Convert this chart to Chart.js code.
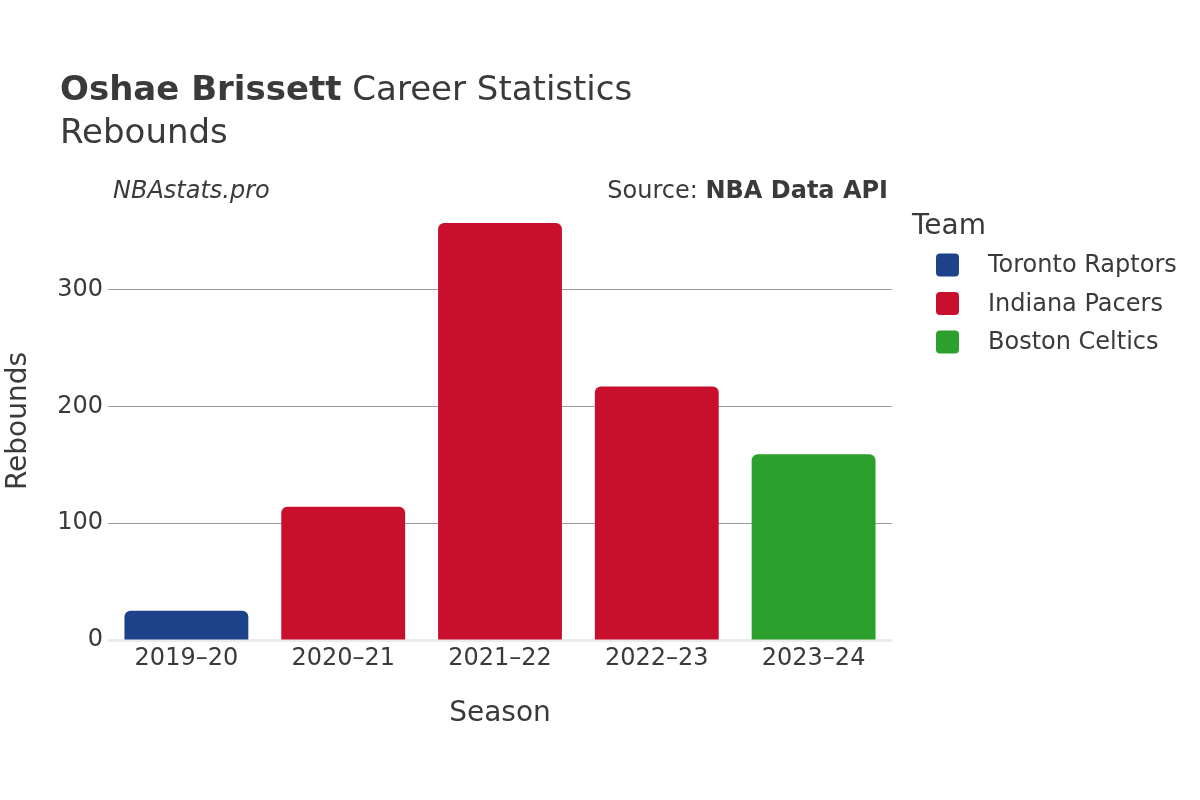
<!DOCTYPE html>
<html><head><meta charset="utf-8">
<script src="https://cdn.jsdelivr.net/npm/chart.js@4.4.1/dist/chart.umd.min.js"></script>
<style>html,body{margin:0;padding:0;background:#fff}#wrap{width:1200px;height:800px}</style>
</head><body><div id="wrap"><canvas id="c" width="1200" height="800"></canvas></div>
<script>
const seasons = ["2019–20","2020–21","2021–22","2022–23","2023–24"];
const teams = ["Toronto Raptors","Indiana Pacers","Boston Celtics"];
const teamColors = ["#1D428A","#C8102E","#2CA02C"];
const torontoRebounds = [25, null, null, null, null];
const indianaRebounds = [null, 114, 357, 217, null];
const bostonRebounds = [null, null, null, null, 159];
const yTicks = [0, 100, 200, 300];
const FONT = "'DejaVu Sans', sans-serif";
const TXT = "#3a3a3a";

const overlay = {
  id: 'overlay',
  afterDraw(chart) {
    const ctx = chart.ctx;
    ctx.save();
    ctx.fillStyle = TXT;
    ctx.textBaseline = 'alphabetic';
    ctx.textAlign = 'left';
    ctx.font = "bold 34px " + FONT;
    const b = "Oshae Brissett";
    ctx.fillText(b, 60, 100);
    const w = ctx.measureText(b).width;
    ctx.font = "34px " + FONT;
    ctx.fillText(" Career Statistics", 60 + w, 100);
    ctx.fillText("Rebounds", 60, 143);
    ctx.textBaseline = 'middle';
    ctx.font = "italic 24px " + FONT;
    ctx.fillText("NBAstats.pro", 113, 192);
    ctx.font = "bold 24px " + FONT;
    const api = "NBA Data API";
    const aw = ctx.measureText(api).width;
    ctx.fillText(api, 888 - aw, 192);
    ctx.font = "24px " + FONT;
    const src = "Source: ";
    const sw = ctx.measureText(src).width;
    ctx.fillText(src, 888 - aw - sw, 192);
    // legend
    ctx.font = "28px " + FONT;
    ctx.fillText("Team", 912, 227);
    ctx.font = "24px " + FONT;
    chart.data.datasets.forEach((ds, i) => {
      const y = 265 + i * 38.5;
      ctx.fillStyle = ds.backgroundColor;
      ctx.beginPath();
      ctx.roundRect(936, y - 11.5, 23, 23, 4);
      ctx.fill();
      ctx.fillStyle = TXT;
      ctx.fillText(ds.label, 988, y + 1);
    });
    ctx.restore();
  },
  beforeDatasetsDraw(chart) {
    const ctx = chart.ctx;
    const a = chart.chartArea;
    const y0 = chart.scales.y.getPixelForValue(0);
    ctx.save();
    ctx.fillStyle = '#ebebeb';
    ctx.fillRect(a.left, y0 - 1, a.right - a.left, 3);
    ctx.restore();
  }
};

new Chart(document.getElementById('c'), {
  type: 'bar',
  data: {
    labels: seasons,
    datasets: [
      { label: teams[0], data: torontoRebounds, backgroundColor: teamColors[0] },
      { label: teams[1], data: indianaRebounds, backgroundColor: teamColors[1] },
      { label: teams[2], data: bostonRebounds, backgroundColor: teamColors[2] }
    ]
  },
  options: {
    responsive: false,
    animation: false,
    layout: { padding: { top: 202, right: 308, left: 0, bottom: 69 } },
    datasets: { bar: { grouped: false, categoryPercentage: 1, barPercentage: 0.79, borderRadius: 6, borderSkipped: 'start' } },
    plugins: { legend: { display: false }, tooltip: { enabled: false } },
    scales: {
      x: {
        grid: { display: false },
        border: { display: false },
        ticks: { color: TXT, font: { family: FONT, size: 24 }, padding: -4, maxRotation: 0 },
        title: { display: true, text: 'Season', color: TXT, font: { family: FONT, size: 28 }, padding: { top: 4, bottom: 0 } },
        afterFit(s) { s.height = 91; }
      },
      y: {
        min: 0, max: 375,
        afterBuildTicks(s) { s.ticks = yTicks.map(v => ({ value: v })); },
        grid: { color: (c) => c.tick && c.tick.value === 0 ? 'rgba(0,0,0,0)' : '#9a9a9a', lineWidth: 1, drawTicks: false },
        border: { display: false },
        ticks: { color: TXT, font: { family: FONT, size: 24 }, padding: 5 },
        title: { display: true, text: 'Rebounds', color: TXT, font: { family: FONT, size: 28 }, padding: { top: 2, bottom: 0 } },
        afterFit(s) { s.width = 108; }
      }
    }
  },
  plugins: [overlay]
});
</script>
</body></html>
